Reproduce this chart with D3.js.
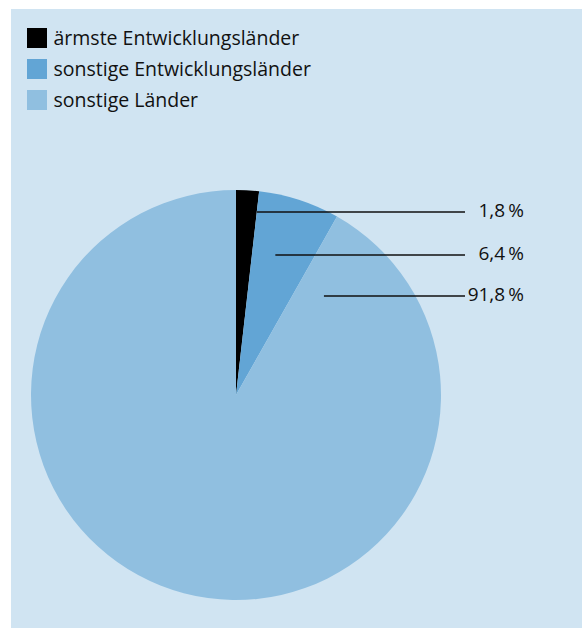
<!DOCTYPE html>
<html><head><meta charset="utf-8">
<script src="https://cdn.jsdelivr.net/npm/d3@7"></script>
<style>body{margin:0;background:#fff}svg{display:block}text{font-family:"Open Sans",sans-serif;fill:#111}</style>
</head><body><svg id="c" width="582" height="628"></svg>
<script>
const categories = ["ärmste Entwicklungsländer", "sonstige Entwicklungsländer", "sonstige Länder"];
const values = [1.8, 6.4, 91.8];
const valueLabels = ["1,8\u2009%", "6,4\u2009%", "91,8\u2009%"];
const colors = ["#000000", "#62a5d5", "#90bfe0"];

const svg = d3.select("#c");
svg.append("rect").attr("x", 11).attr("y", 9).attr("width", 571).attr("height", 619).attr("fill", "#d0e4f2");

const cx = 236, cy = 395, r = 205;
const pie = d3.pie().sort(null).value(d => d)(values);
const arc = d3.arc().innerRadius(0).outerRadius(r);
const g = svg.append("g").attr("transform", `translate(${cx},${cy})`);
g.selectAll("path").data(pie).join("path").attr("d", arc).attr("fill", (d, i) => colors[i]);

// legend
const leg = svg.append("g").attr("transform", "translate(27,28)");
categories.forEach((c, i) => {
  leg.append("rect").attr("x", 0).attr("y", i * 31).attr("width", 20).attr("height", 20).attr("fill", colors[i]);
  leg.append("text").attr("x", 26.5).attr("y", i * 31 + 17).attr("font-size", 19.5).text(c);
});

// leader lines & labels
const labelY = [212, 255, 296];
const anchorFrac = [1.0, 0.4, 0.0366];
pie.forEach((d, i) => {
  const a = d.startAngle + anchorFrac[i] * (d.endAngle - d.startAngle);
  const dy = cy - labelY[i];
  const sx = cx + dy * Math.tan(a);
  svg.append("line").attr("x1", sx).attr("x2", 465).attr("y1", labelY[i]).attr("y2", labelY[i])
    .attr("stroke", "#111").attr("stroke-width", 1.5);
  svg.append("text").attr("x", 524).attr("y", labelY[i] + 5).attr("text-anchor", "end").attr("font-size", 19).text(valueLabels[i]);
});
</script></body></html>
